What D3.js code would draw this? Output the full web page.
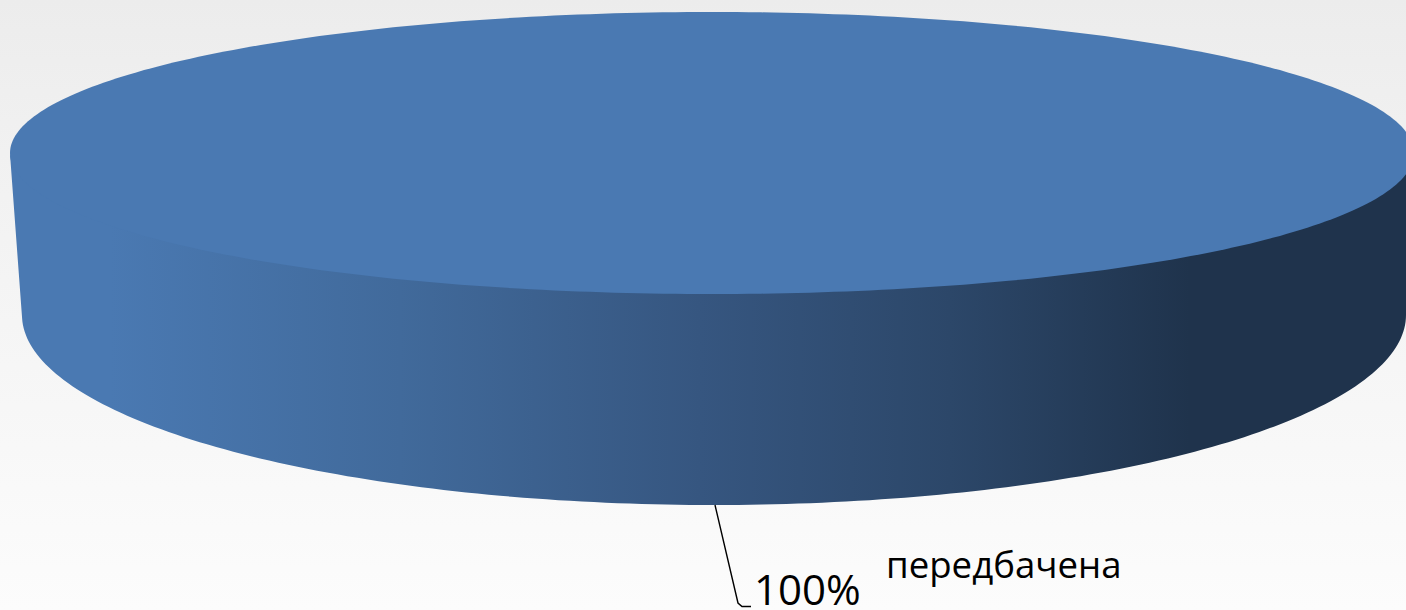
<!DOCTYPE html>
<html><head><meta charset="utf-8">
<script src="https://cdn.jsdelivr.net/npm/d3@7"></script>
<style>html,body{margin:0;padding:0;background:#f5f5f5;overflow:hidden}svg{display:block}</style>
</head><body><svg id="c" width="1406" height="610"></svg>
<script>
const categories = ["передбачена"];
const values = [100];
const percentLabels = ["100%"];
const width = 1406, height = 610;
const svg = d3.select("#c");
const defs = svg.append("defs");

const bg = defs.append("linearGradient").attr("id","bg").attr("x1",0).attr("y1",0).attr("x2",0).attr("y2",1);
[[0,"#ececec"],[0.25,"#f1f1f1"],[0.6,"#f6f6f6"],[1,"#fcfcfc"]].forEach(s=>bg.append("stop").attr("offset",s[0]).attr("stop-color",s[1]));
svg.append("rect").attr("width",width).attr("height",height).attr("fill","url(#bg)");

const side = defs.append("linearGradient").attr("id","side").attr("gradientUnits","userSpaceOnUse")
  .attr("x1",10).attr("x2",1406).attr("y1",0).attr("y2",0);
[[110,"#4a79b2"],[400,"#416a9b"],[700,"#365680"],[950,"#2c4769"],[1190,"#1f334c"],[1406,"#1f334c"]]
  .forEach(s=>side.append("stop").attr("offset",(s[0]-10)/1396).attr("stop-color",s[1]));

const pie = d3.pie().sort(null)(values)[0];
const span = d3.scaleLinear().domain([pie.startAngle,pie.endAngle]).range([0,2*Math.PI]);
const angles = d3.range(0,361).map(d=>pie.startAngle+(pie.endAngle-pie.startAngle)*d/360);

const topX = d3.scaleLinear().domain([-1,1]).range([10,1414]);
const topY = d3.scaleLinear().domain([-1,1]).range([12,294]);
const botX = d3.scaleLinear().domain([-1,1]).range([22,1406]);
const botY = d3.scaleLinear().domain([-1,1]).range([125,505]);

const topPt = a=>[topX(Math.cos(span(a))),topY(Math.sin(span(a)))];
const botPt = a=>[botX(Math.cos(span(a))),botY(Math.sin(span(a)))];
const line = d3.line();

const front = angles.filter(a=>span(a)<=Math.PI);
// the side body runs under the top face so that no light seam shows between them
svg.append("path")
  .attr("d",line([...front.map(botPt),topPt(front[front.length-1]),topPt(front[0])])+"Z")
  .attr("fill","url(#side)");
svg.append("path").attr("d",line(angles.map(topPt))+"Z").attr("fill","#4a79b2");

svg.append("path").attr("d",line([[715,505],[738,603],[742,606.5],[751,606.5]]))
  .attr("fill","none").attr("stroke","#000").attr("stroke-width",1.4);
svg.append("text").attr("x",754).attr("y",605).attr("font-family","'Open Sans',sans-serif")
  .attr("font-size",42).attr("fill","#000").text(percentLabels[0]);
svg.append("text").attr("x",886).attr("y",577.5).attr("font-family","'Open Sans',sans-serif")
  .attr("font-size",36.6).attr("fill","#000").text(categories[0]);
</script></body></html>
